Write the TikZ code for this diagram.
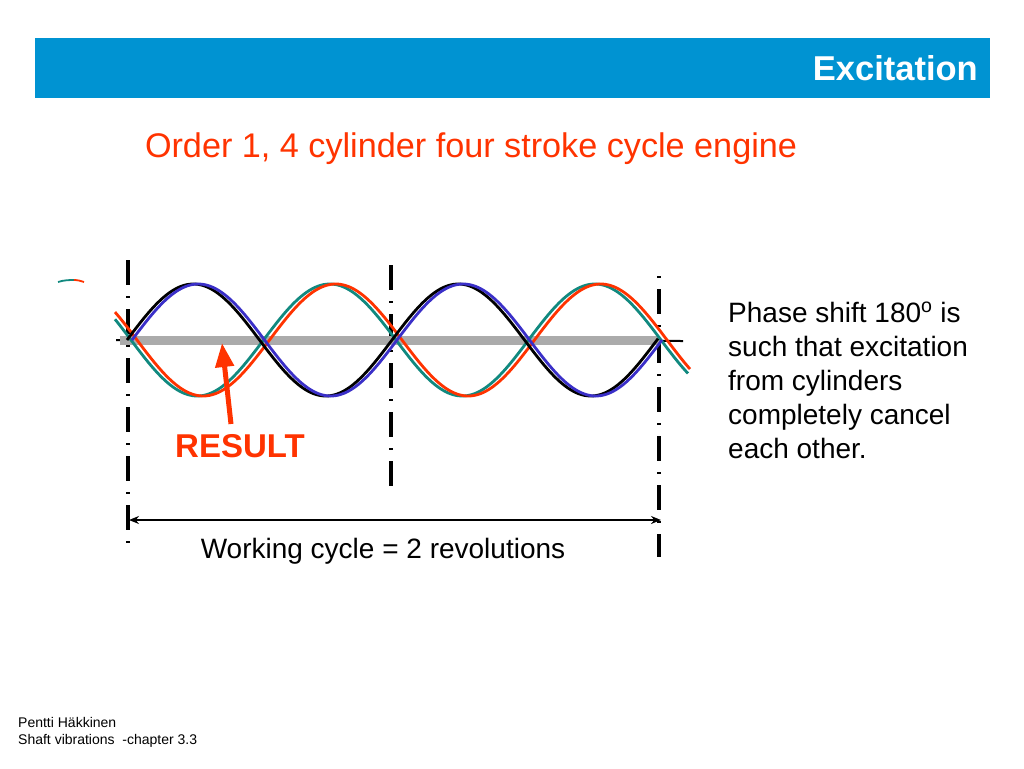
\documentclass[tikz,border=0pt]{standalone}
\usepackage{fontspec}
\setmainfont{Liberation Sans}
\usetikzlibrary{arrows.meta}
\definecolor{barblue}{HTML}{0093D2}
\definecolor{ordred}{HTML}{FF3300}
\definecolor{wteal}{HTML}{11897F}
\definecolor{wblue}{HTML}{3A2FC8}
\definecolor{wgray}{HTML}{ABABAB}
\tikzset{
  wave/.style={line width=2.8pt},
  dashdot/.style={line width=3.2pt, dash pattern=on 25pt off 11pt on 2pt off 11pt},
  body/.style={font=\fontsize{28}{34}\selectfont, anchor=base west, inner sep=0pt, align=left},
}
\begin{document}
\begin{tikzpicture}[x=1pt,y=-1pt]
\useasboundingbox (0,0) rectangle (1024,768);
% title bar
\fill[barblue] (35,38) rectangle (990,98);
\node[anchor=base east, inner sep=0pt, text=white, font=\fontsize{34.5}{34.5}\selectfont\bfseries] (title) at (978,81) {Excitation};
\node[anchor=base, inner sep=0pt, text=ordred, font=\fontsize{34.2}{34.2}\selectfont] (sub) at (471,157) {Order 1, 4 cylinder four stroke cycle engine};
% dash-dot vertical lines
\coordinate (l1t) at (128,260); \coordinate (l1b) at (128,543);
\coordinate (l2t) at (391,265); \coordinate (l2b) at (391,486);
\coordinate (l3t) at (659,276); \coordinate (l3b) at (659,557);
\draw[dashdot] (l1t) -- (l1b);
\draw[dashdot] (l2t) -- (l2b);
\draw[dashdot, dash phase=36pt] (l3t) -- (l3b);
% axis and result line
\coordinate (axl) at (116,340); \coordinate (axr) at (683,341);
\draw[line width=2pt] (axl) -- (axr);
\coordinate (gl) at (120,340); \coordinate (gr) at (660,340);
\draw[wgray, line width=9pt] (gl) -- (gr);
% waves
\draw[wave, wteal] plot[domain=115:688, samples=240] (\x, {340 + 56*sin(1.35849*(\x-131))});
\draw[wave, ordred] plot[domain=115:690, samples=240] (\x, {340 + 56*sin(1.35849*(\x-137))});
\draw[wave, black] plot[domain=127:658, samples=240] (\x, {340 - 56*sin(1.35849*(\x-127))});
\draw[wave, wblue] plot[domain=132:662, samples=240] (\x, {340 - 56*sin(1.35849*(\x-132))});
% tiny mark
\draw[wteal, line width=1.8pt] (58,282) .. controls (64,280) and (70,280) .. (74,280);
\draw[ordred, line width=1.8pt] (74,280) .. controls (78,280) and (81,281) .. (84,282);
% result
\node[anchor=base, inner sep=0pt, text=ordred, font=\fontsize{33}{33}\selectfont\bfseries] (res) at (240,457) {RESULT};
\coordinate (rtip) at (222,343);
\coordinate (rbase) at (231,424);
\draw[ordred, line width=5pt, -{Triangle[length=24pt,width=18pt]}] (rbase) -- (rtip);
% working cycle
\coordinate (wl) at (129,520); \coordinate (wr) at (661,520);
\draw[line width=2.4pt, {Stealth[length=10pt,width=8pt]}-{Stealth[length=10pt,width=8pt]}] (wl) -- (wr);
\node[anchor=base, inner sep=0pt, font=\fontsize{28}{28}\selectfont] (wc) at (383,558) {Working cycle = 2 revolutions};
% right text (base = last line)
\node[body] (phase) at (728,458) {Phase shift 180\textsuperscript{o} is\\such that excitation\\from cylinders\\completely cancel\\each other.};
% footer
\node[anchor=base west, inner sep=0pt, align=left, font=\fontsize{14}{17}\selectfont] (foot) at (18,744) {Pentti Häkkinen\\Shaft vibrations\ \ -chapter 3.3};
\end{tikzpicture}
\end{document}
